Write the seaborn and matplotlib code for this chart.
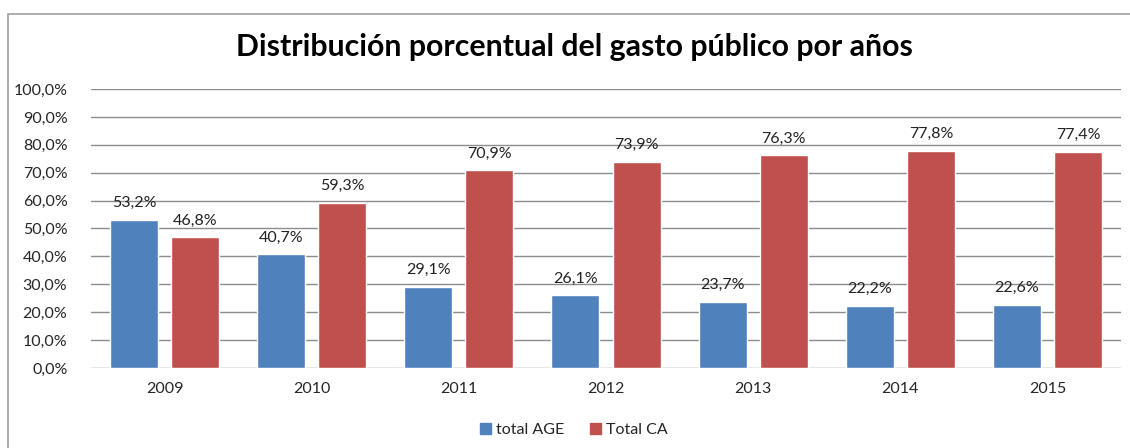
import matplotlib
matplotlib.use("Agg")
import matplotlib.pyplot as plt
import matplotlib.patches as mpatches
import pandas as pd
import seaborn as sns

YEARS = ["2009", "2010", "2011", "2012", "2013", "2014", "2015"]
AGE = [53.2, 40.7, 29.1, 26.1, 23.7, 22.2, 22.6]
CA = [46.8, 59.3, 70.9, 73.9, 76.3, 77.8, 77.4]
SERIES = ["total AGE", "Total CA"]
COLORS = ["#4F81BD", "#C0504D"]
TITLE = "Distribución porcentual del gasto público por años"

df = pd.DataFrame({
    "year": YEARS * 2,
    "serie": [SERIES[0]] * len(YEARS) + [SERIES[1]] * len(YEARS),
    "value": AGE + CA,
})

sns.set_style("white")
plt.rcParams["font.family"] = ["Lato", "DejaVu Sans"]

W, H = 1130, 448
fig = plt.figure(figsize=(W / 100, H / 100), dpi=100)
ax = fig.add_axes([91 / W, 80 / H, (1121 - 91) / W, (368 - 89) / H])

sns.barplot(data=df, x="year", y="value", hue="serie", palette=COLORS,
            width=0.83, gap=0.213, saturation=1, ax=ax, legend=False)

ax.set_ylim(0, 100)
ax.set_xlim(-0.5, len(YEARS) - 0.5)
ax.set_yticks(range(0, 101, 10))
ax.set_yticklabels([f"{v},0%" for v in range(0, 101, 10)], fontsize=11.5)
ax.tick_params(axis="x", labelsize=11.5, length=0, pad=10)
ax.tick_params(axis="y", length=0, pad=17)
ax.yaxis.grid(True, color="#8C8C8C", linewidth=1)
ax.set_axisbelow(True)
for s in ax.spines.values():
    s.set_visible(False)
ax.set_xlabel("")
ax.set_ylabel("")

for cont in ax.containers:
    ax.bar_label(cont, labels=[f"{b.get_height():.1f}%".replace(".", ",") for b in cont],
                 padding=7, fontsize=11.5, color="#222222")

fig.text(574 / W, 1 - 47 / H, TITLE, ha="center", va="center",
         fontsize=21.8, fontweight="bold", color="black")

handles = [mpatches.Patch(color=c, label=l) for c, l in zip(COLORS, SERIES)]
fig.legend(handles=handles, loc="center", bbox_to_anchor=(574 / W, 1 - 430 / H),
           ncol=2, frameon=False, fontsize=11.5, handlelength=0.7, handleheight=0.7,
           handletextpad=0.3, columnspacing=1.6)

border = mpatches.Rectangle((8 / W, -0.05), 1.1, (H - 14) / H + 0.05,
                            transform=fig.transFigure, fill=False,
                            edgecolor="#A0A0A0", linewidth=1.2)
fig.patches.append(border)

fig.savefig("out.png", dpi=100)
